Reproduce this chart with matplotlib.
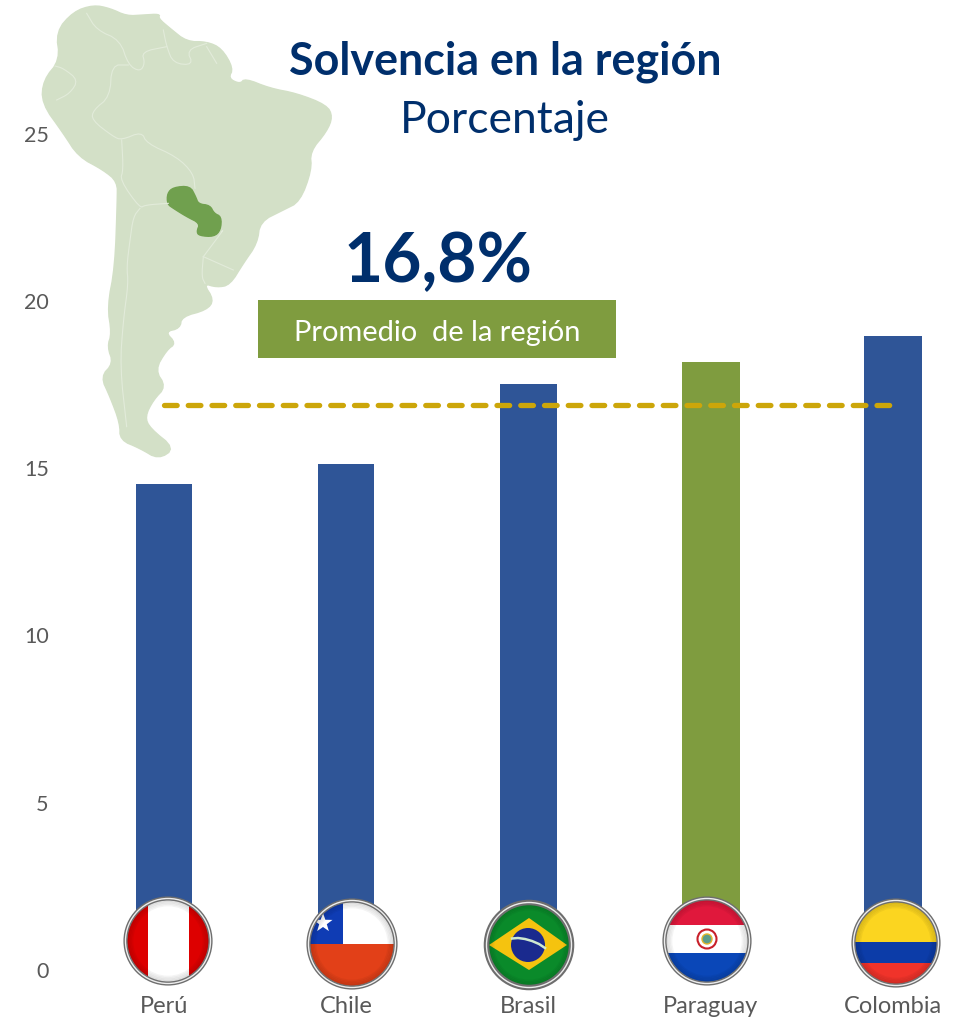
import numpy as np
import matplotlib
matplotlib.use('Agg')
import matplotlib.pyplot as plt
from matplotlib.patches import Polygon, Circle, Rectangle

plt.rcParams['font.family'] = ['Lato', 'DejaVu Sans']

paises = ['Perú', 'Chile', 'Brasil', 'Paraguay', 'Colombia']
solvencia = [14.53, 15.13, 17.5, 18.18, 18.95]
colores = ['#2F5597', '#2F5597', '#2F5597', '#7F9C3F', '#2F5597']
linea_promedio = 16.88
ticks_y = [0, 5, 10, 15, 20, 25]

mapa = [(130, 35), (190, 15), (240, 25), (290, 48), (340, 45), (390, 42), (385, 55), (420, 85), (470, 125), (530, 125),
        (575, 145), (610, 205), (595, 235), (630, 252), (645, 235), (720, 265), (800, 280), (890, 315), (908, 350),
        (890, 395), (840, 455), (845, 510), (810, 605), (760, 630), (690, 665), (682, 730), (640, 790), (600, 855),
        (560, 862), (520, 850), (552, 900), (530, 930), (455, 950), (450, 985), (405, 995), (438, 1030), (410, 1050),
        (375, 1110), (408, 1160), (370, 1200), (345, 1250), (360, 1285), (435, 1345), (385, 1378), (330, 1345),
        (270, 1320), (270, 1270), (240, 1190), (212, 1130), (250, 1090), (232, 1040), (245, 1000), (232, 920),
        (255, 800), (262, 600), (262, 545), (220, 510), (145, 470), (100, 400), (35, 310), (40, 240), (90, 180), (78, 95)]
paraguay = [(412, 580), (430, 562), (480, 558), (497, 590), (505, 612), (540, 616), (552, 640), (574, 650), (572, 690),
            (552, 710), (508, 707), (500, 695), (510, 670), (470, 650), (430, 625), (412, 612)]
fronteras = [
    [(170, 40), (200, 90), (270, 120), (295, 195), (330, 215), (345, 190), (335, 155), (410, 140)],
    [(295, 195), (245, 195), (240, 290), (190, 330), (185, 360), (250, 410), (275, 420), (335, 395), (350, 430), (440, 470), (490, 520), (495, 565)],
    [(75, 198), (100, 205), (145, 240), (120, 280), (80, 300)],
    [(275, 420), (280, 510), (270, 540), (330, 625), (345, 615), (415, 610)],
    [(330, 625), (310, 650), (300, 720), (290, 800), (295, 850), (280, 960), (270, 1100), (290, 1280)],
    [(520, 770), (610, 810)],
    [(520, 770), (515, 830), (525, 850)],
    [(575, 695), (580, 690), (520, 770)],
    [(400, 90), (410, 140), (430, 190), (490, 195), (470, 150), (530, 130)],
    [(530, 140), (560, 190)],
]


def a_pixeles(puntos):
    p = np.array(puntos, dtype=float)
    return np.column_stack([30 + p[:, 0] / 3, p[:, 1] / 3])


def suavizar(p, cerrado=True, veces=2):
    # corte de esquinas para que el contorno no quede tan anguloso
    for _ in range(veces):
        sig = np.roll(p, -1, axis=0)
        q = np.empty((2 * len(p), 2))
        q[0::2] = 0.75 * p + 0.25 * sig
        q[1::2] = 0.25 * p + 0.75 * sig
        p = q if cerrado else np.vstack([p[0], q[:-2], p[-1]])
    return p


fig = plt.figure(figsize=(9.66, 10.19), dpi=100)
W, H = 966, 1019

# fondo con el mapa
fondo = fig.add_axes([0, 0, 1, 1], zorder=0)
fondo.set_xlim(0, W)
fondo.set_ylim(H, 0)
fondo.axis('off')
fondo.add_patch(Polygon(suavizar(a_pixeles(mapa)), closed=True, fc='#D3E0C7', ec='#D3E0C7', lw=1))
for f in fronteras:
    xy = suavizar(a_pixeles(f), cerrado=False)
    fondo.plot(xy[:, 0], xy[:, 1], color='#E2EBDA', lw=0.8)
fondo.add_patch(Polygon(suavizar(a_pixeles(paraguay)), closed=True, fc='#70A04E', ec='#70A04E', lw=1))

# barras
x0, y0, y25 = 64, 970, 133.5
ax = fig.add_axes([x0 / W, (H - y0) / H, (W - x0) / W, (y0 - y25) / H], zorder=1)
ax.patch.set_alpha(0)
ax.bar(range(len(paises)), solvencia, width=[0.305, 0.305, 0.318, 0.318, 0.318], color=colores)
ax.set_xlim((x0 - 164) / 182.25, (W - 164) / 182.25)
ax.set_ylim(0, 25)
ax.plot([0, 4], [linea_promedio, linea_promedio], color='#CCA60A', lw=3.8, dashes=(2.4, 2.1), dash_capstyle='round')
ax.set_yticks(ticks_y)
ax.set_xticks(range(len(paises)))
ax.set_xticklabels(paises)
ax.tick_params(length=0, labelsize=15.5, labelcolor='#595959')
ax.tick_params(axis='x', pad=19, labelsize=17)
ax.tick_params(axis='y', pad=11)
for s in ax.spines.values():
    s.set_visible(False)

# banderas y textos encima
frente = fig.add_axes([0, 0, 1, 1], zorder=2)
frente.set_xlim(0, W)
frente.set_ylim(H, 0)
frente.axis('off')


def bandera(cx, cy, r, franjas, vertical=False):
    disco = Circle((cx, cy), r, transform=frente.transData)
    for ini, fin, col in franjas:
        if vertical:
            p = Rectangle((cx - r + ini * 2 * r, cy - r), (fin - ini) * 2 * r, 2 * r, fc=col, ec='none')
        else:
            p = Rectangle((cx - r, cy - r + ini * 2 * r), 2 * r, (fin - ini) * 2 * r, fc=col, ec='none')
        frente.add_patch(p)
        p.set_clip_path(disco)
    return disco


def aro(cx, cy, r, grosor=3):
    # sombra interior y borde cromado
    for k in range(4):
        frente.add_patch(Circle((cx, cy), r - 1 - 1.5 * k, fc='none', ec='black', lw=1.2, alpha=0.12 - 0.025 * k))
    frente.add_patch(Circle((cx, cy), r + 1.5, fc='none', ec='#6E6E6E', lw=grosor))
    frente.add_patch(Circle((cx, cy), r + 1.5, fc='none', ec='#EDEDED', lw=1))


# Peru
bandera(168, 941, 41, [(0, 0.25, '#DD0000'), (0.25, 0.75, '#FFFFFF'), (0.75, 1, '#DD0000')], vertical=True)
aro(168, 941, 41)

# Chile
d = bandera(352, 944, 42, [(0, 0.5, '#FFFFFF'), (0.5, 1, '#E24018')])
p = Rectangle((310, 902), 33, 42, fc='#0F3CB4', ec='none')
frente.add_patch(p)
p.set_clip_path(d)
ang = np.pi / 2 + np.arange(10) * np.pi / 5
rad = np.where(np.arange(10) % 2 == 0, 10, 4)
frente.add_patch(Polygon(np.column_stack([323 + rad * np.cos(ang), 923 - rad * np.sin(ang)]), closed=True, fc='white', ec='none'))
aro(352, 944, 42)

# Brasil
frente.add_patch(Circle((529, 945), 41, fc='#0A8A2A', ec='none'))
frente.add_patch(Polygon([(489, 945), (529, 918), (567, 945), (529, 970)], closed=True, fc='#F5C30F', ec='none'))
frente.add_patch(Circle((528, 945), 17, fc='#1A2A8E', ec='none'))
frente.plot([512, 518, 525, 532, 539, 545], [938.5, 938, 939, 941, 944, 948], color='#CFE8D0', lw=1.8)
aro(529, 945, 41, grosor=4)

# Paraguay
bandera(707, 941, 41, [(0, 0.31, '#E0183C'), (0.31, 0.65, '#FFFFFF'), (0.65, 1, '#0A47B8')])
frente.add_patch(Circle((707, 939), 9.5, fc='white', ec='#C8202A', lw=1.5))
frente.add_patch(Circle((707, 939), 5, fc='#5C9E8A', ec='#E3B62A', lw=1))
aro(707, 941, 41)

# Colombia
bandera(896, 943, 41, [(0, 0.49, '#FBD520'), (0.49, 0.74, '#0C3CA8'), (0.74, 1, '#F0332A')])
aro(896, 943, 41)

# textos
azul = '#002F6C'
frente.text(505, 62, 'Solvencia en la región', color=azul, fontsize=32.3, fontweight='bold', ha='center', va='center')
frente.text(505, 120, 'Porcentaje', color=azul, fontsize=32, ha='center', va='center')
frente.text(438, 263, '16,8%', color=azul, fontsize=48.7, fontweight='bold', ha='center', va='center')
frente.add_patch(Rectangle((258, 300), 358, 58, fc='#7F9C3F', ec='none'))
frente.text(437, 333, 'Promedio  de la región', color='white', fontsize=20.9, ha='center', va='center')

fig.savefig('out.png', dpi=100)
